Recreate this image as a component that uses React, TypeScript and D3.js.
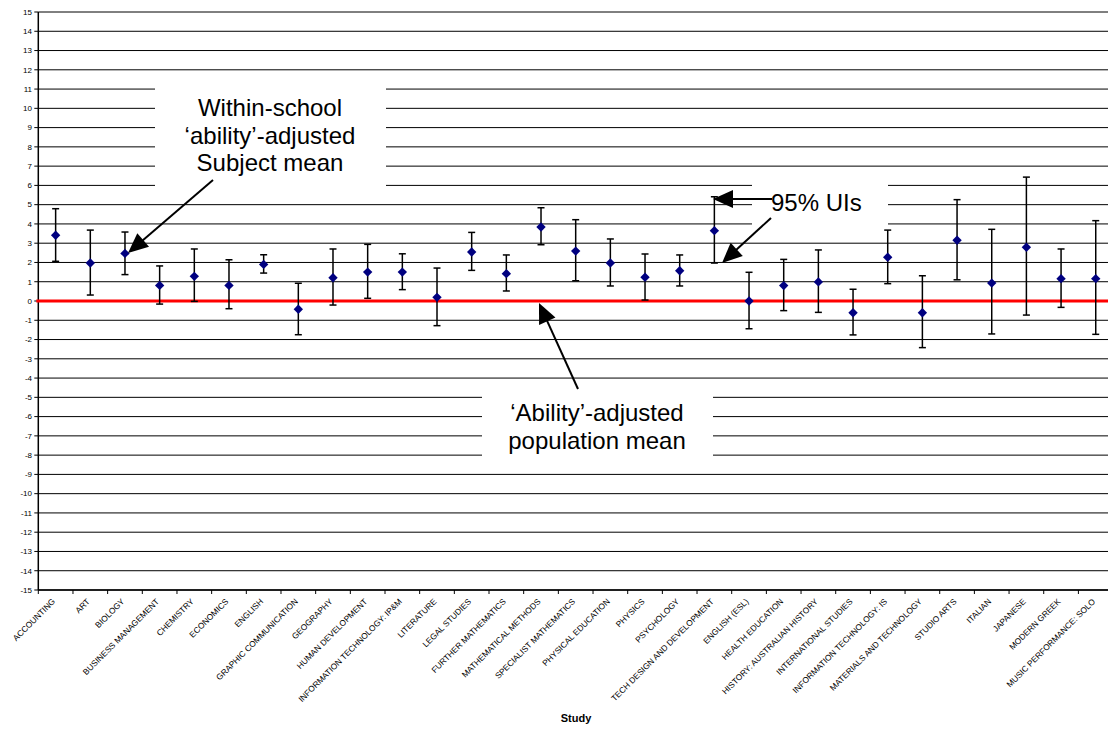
import React from "react";
import * as d3 from "d3";

// subjects along the x axis
const subjects = [
  "ACCOUNTING", "ART", "BIOLOGY", "BUSINESS MANAGEMENT", "CHEMISTRY", "ECONOMICS",
  "ENGLISH", "GRAPHIC COMMUNICATION", "GEOGRAPHY", "HUMAN DEVELOPMENT",
  "INFORMATION TECHNOLOGY: IP&M", "LITERATURE", "LEGAL STUDIES", "FURTHER MATHEMATICS",
  "MATHEMATICAL METHODS", "SPECIALIST MATHEMATICS", "PHYSICAL EDUCATION", "PHYSICS",
  "PSYCHOLOGY", "TECH DESIGN AND DEVELOPMENT", "ENGLISH (ESL)", "HEALTH EDUCATION",
  "HISTORY: AUSTRALIAN HISTORY", "INTERNATIONAL STUDIES", "INFORMATION TECHNOLOGY: IS",
  "MATERIALS AND TECHNOLOGY", "STUDIO ARTS", "ITALIAN", "JAPANESE", "MODERN GREEK",
  "MUSIC PERFORMANCE: SOLO",
];

// adjusted subject means
const means = [
  3.41, 1.97, 2.47, 0.81, 1.28, 0.81, 1.9, -0.43, 1.21, 1.5,
  1.5, 0.19, 2.54, 1.42, 3.84, 2.59, 1.97, 1.23, 1.57, 3.65,
  0.0, 0.8, 0.99, -0.61, 2.27, -0.61, 3.15, 0.93, 2.79, 1.16, 1.16,
];

// 95% uncertainty interval, upper
const upper = [
  4.79, 3.68, 3.58, 1.82, 2.7, 2.14, 2.4, 0.92, 2.7, 2.94,
  2.45, 1.71, 3.56, 2.39, 4.84, 4.22, 3.22, 2.44, 2.39, 5.41,
  1.49, 2.16, 2.65, 0.61, 3.68, 1.31, 5.26, 3.72, 6.43, 2.7, 4.17,
];

// 95% uncertainty interval, lower
const lower = [
  2.06, 0.31, 1.37, -0.16, -0.02, -0.4, 1.45, -1.75, -0.21, 0.14,
  0.59, -1.28, 1.59, 0.52, 2.92, 1.05, 0.78, 0.05, 0.78, 1.97,
  -1.44, -0.5, -0.59, -1.76, 0.9, -2.42, 1.1, -1.71, -0.73, -0.33, -1.73,
];

const yTicks = d3.range(-15, 16);

const width = 1108;
const height = 729;
const left = 38.3;
const step = 34.67;
const top = 12;
const bottom = 590;

const font = "Arial, 'Liberation Sans', sans-serif";

// filled arrowhead polygon pointing at (x2, y2)
function arrowHead(x1: number, y1: number, x2: number, y2: number, len = 20, half = 9) {
  const a = Math.atan2(y2 - y1, x2 - x1);
  const bx = x2 - len * Math.cos(a);
  const by = y2 - len * Math.sin(a);
  const px = -Math.sin(a) * half;
  const py = Math.cos(a) * half;
  return `${x2},${y2} ${bx + px},${by + py} ${bx - px},${by - py}`;
}

const Arrow = ({ x1, y1, x2, y2 }: { x1: number; y1: number; x2: number; y2: number }) => {
  const a = Math.atan2(y2 - y1, x2 - x1);
  const ex = x2 - 15 * Math.cos(a);
  const ey = y2 - 15 * Math.sin(a);
  return (
    <g>
      <line x1={x1} y1={y1} x2={ex} y2={ey} stroke="#000" strokeWidth={2} />
      <polygon points={arrowHead(x1, y1, x2, y2)} fill="#000" />
    </g>
  );
};

export default function App() {
  const x = d3
    .scaleBand()
    .domain(subjects)
    .range([left, left + step * subjects.length]);
  const y = d3.scaleLinear().domain([-15, 15]).range([bottom, top]);
  const cx = (s: string) => (x(s) as number) + x.bandwidth() / 2;
  const diamond = d3.symbol(d3.symbolSquare, 44)() as string;
  const rows = subjects.map((s, i) => ({ s, m: means[i], hi: upper[i], lo: lower[i] }));

  return (
    <svg
      width={width}
      height={height}
      style={{ position: "absolute", left: 0, top: 0, background: "#fff" }}
      fontFamily={font}
    >
      {/* grid */}
      {yTicks.map((t) => (
        <line key={t} x1={left} x2={width} y1={y(t)} y2={y(t)} stroke="#000" strokeWidth={1} />
      ))}

      {/* text boxes covering the grid */}
      <rect x={155} y={76} width={231} height={118} fill="#fff" />
      <rect x={752} y={176} width={136} height={58} fill="#fff" />
      <rect x={482} y={388} width={231} height={77} fill="#fff" />

      {/* axes */}
      <line x1={left} x2={left} y1={top} y2={bottom} stroke="#000" strokeWidth={1.5} />
      <line x1={left} x2={width} y1={bottom} y2={bottom} stroke="#000" strokeWidth={1.5} />
      {yTicks.map((t) => (
        <g key={t}>
          <line x1={left - 4} x2={left} y1={y(t)} y2={y(t)} stroke="#000" />
          <text x={32} y={y(t)} dy="0.35em" textAnchor="end" fontSize={8} fill="#000">
            {t}
          </text>
        </g>
      ))}
      {subjects.map((s) => (
        <line
          key={s}
          x1={x(s) as number}
          x2={x(s) as number}
          y1={bottom}
          y2={bottom + 4}
          stroke="#000"
        />
      ))}
      {subjects.map((s) => (
        <text
          key={s}
          transform={`translate(${cx(s) - 2},${bottom + 10}) rotate(-45)`}
          textAnchor="end"
          dy="0.35em"
          fontSize={8.3}
          fill="#000"
        >
          {s}
        </text>
      ))}
      <text x={576} y={718} dy="0.35em" textAnchor="middle" fontSize={11} fontWeight="bold">
        Study
      </text>

      {/* population mean */}
      <line x1={left - 2} x2={width} y1={y(0)} y2={y(0)} stroke="#ff0000" strokeWidth={3} />

      {/* uncertainty intervals */}
      {rows.map((d) => (
        <g key={d.s} stroke="#000" strokeWidth={1.5}>
          <line x1={cx(d.s)} x2={cx(d.s)} y1={y(d.hi)} y2={y(d.lo)} />
          <line x1={cx(d.s) - 3.5} x2={cx(d.s) + 3.5} y1={y(d.hi)} y2={y(d.hi)} />
          <line x1={cx(d.s) - 3.5} x2={cx(d.s) + 3.5} y1={y(d.lo)} y2={y(d.lo)} />
        </g>
      ))}
      {rows.map((d) => (
        <path
          key={d.s}
          d={diamond}
          transform={`translate(${cx(d.s)},${y(d.m)}) rotate(45)`}
          fill="#000080"
        />
      ))}

      {/* annotations */}
      <g fontSize={24} textAnchor="middle" fill="#000">
        <text x={270} y={108} dy="0.35em">Within-school</text>
        <text x={270} y={136} dy="0.35em">{"\u2018ability\u2019-adjusted"}</text>
        <text x={270} y={163} dy="0.35em">Subject mean</text>
        <text x={597} y={413} dy="0.35em">{"\u2018Ability\u2019-adjusted"}</text>
        <text x={597} y={441} dy="0.35em">population mean</text>
        <text x={771} y={203} dy="0.35em" textAnchor="start">95% UIs</text>
      </g>
      <Arrow x1={213} y1={180} x2={128} y2={253} />
      <Arrow x1={578} y1={389} x2={539} y2={303} />
      <Arrow x1={772} y1={199} x2={713} y2={199} />
      <Arrow x1={771} y1={218} x2={722} y2={263} />
    </svg>
  );
}
